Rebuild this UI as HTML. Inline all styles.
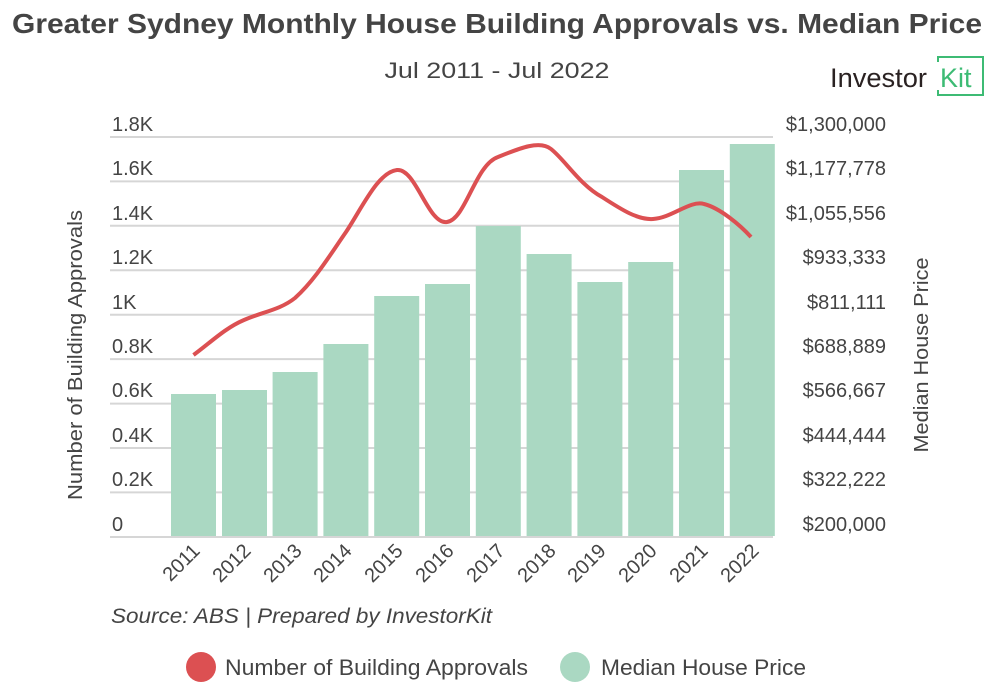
<!DOCTYPE html>
<html><head><meta charset="utf-8"><style>
body{margin:0;background:#fff;font-family:"Liberation Sans",sans-serif}
</style></head><body>
<svg width="994" height="690" xmlns="http://www.w3.org/2000/svg" font-family="Liberation Sans, sans-serif">
<text x="497" y="33" text-anchor="middle" font-size="28" font-weight="bold" fill="#444" textLength="970" lengthAdjust="spacingAndGlyphs">Greater Sydney Monthly House Building Approvals vs. Median Price</text>
<text x="497" y="78" text-anchor="middle" font-size="22" fill="#444" textLength="225" lengthAdjust="spacingAndGlyphs">Jul 2011 - Jul 2022</text>
<text x="830" y="87" font-size="27" fill="#2a2222" textLength="97" lengthAdjust="spacingAndGlyphs">Investor</text>
<path d="M938 62 V57 H983 V95 H938 V90" fill="none" stroke="#3dbb74" stroke-width="2"/>
<text x="940" y="87" font-size="27" fill="#3dbb74">Kit</text>
<g stroke="#d6d6d6" stroke-width="2">
<line x1="110" x2="773" y1="137" y2="137"/><line x1="110" x2="773" y1="181.4" y2="181.4"/><line x1="110" x2="773" y1="225.8" y2="225.8"/><line x1="110" x2="773" y1="270.3" y2="270.3"/><line x1="110" x2="773" y1="314.7" y2="314.7"/><line x1="110" x2="773" y1="359.1" y2="359.1"/><line x1="110" x2="773" y1="403.6" y2="403.6"/><line x1="110" x2="773" y1="448" y2="448"/><line x1="110" x2="773" y1="492.4" y2="492.4"/><line x1="110" x2="773" y1="537" y2="537"/>
</g>
<g font-size="20" fill="#444">
<text x="112" y="131">1.8K</text><text x="112" y="175">1.6K</text><text x="112" y="220">1.4K</text><text x="112" y="264">1.2K</text><text x="112" y="309">1K</text><text x="112" y="353">0.8K</text><text x="112" y="397">0.6K</text><text x="112" y="442">0.4K</text><text x="112" y="486">0.2K</text><text x="112" y="531">0</text>
</g>
<g font-size="20" fill="#444" text-anchor="end">
<text x="886" y="131">$1,300,000</text><text x="886" y="175">$1,177,778</text><text x="886" y="220">$1,055,556</text><text x="886" y="264">$933,333</text><text x="886" y="309">$811,111</text><text x="886" y="353">$688,889</text><text x="886" y="397">$566,667</text><text x="886" y="442">$444,444</text><text x="886" y="486">$322,222</text><text x="886" y="531">$200,000</text>
</g>
<text transform="translate(82,355) rotate(-90)" text-anchor="middle" font-size="20" fill="#444" textLength="290" lengthAdjust="spacingAndGlyphs">Number of Building Approvals</text>
<text transform="translate(928,355) rotate(-90)" text-anchor="middle" font-size="20" fill="#444" textLength="195" lengthAdjust="spacingAndGlyphs">Median House Price</text>
<g fill="#aad8c2">
<rect x="171" y="394" width="45" height="142"/>
<rect x="222" y="390" width="45" height="146"/>
<rect x="272.6" y="372" width="45" height="164"/>
<rect x="323.4" y="344" width="45" height="192"/>
<rect x="374.2" y="296" width="45" height="240"/>
<rect x="425" y="284" width="45" height="252"/>
<rect x="475.8" y="226" width="45" height="310"/>
<rect x="526.6" y="254" width="45" height="282"/>
<rect x="577.4" y="282" width="45" height="254"/>
<rect x="628.2" y="262" width="45" height="274"/>
<rect x="679" y="170" width="45" height="366"/>
<rect x="729.8" y="144" width="45" height="392"/>
</g>
<path d="M193.5 355 C210 343,225 328,244 320 C262 312,280 310,295 298 C315 280,330 255,346 232 C362 208,378 172,397 170 C416 168,428 225,447 222 C466 219,475 165,498 157 C520 148,540 140,551 149 C565 160,580 185,602 197 C622 210,638 220,653 219 C672 218,690 200,704 204 C720 208,740 225,751 237" fill="none" stroke="#dc5052" stroke-width="4"/>
<g font-size="20" fill="#444" text-anchor="end">
<text transform="translate(201,552) rotate(-45)">2011</text>
<text transform="translate(252,552) rotate(-45)">2012</text>
<text transform="translate(303,552) rotate(-45)">2013</text>
<text transform="translate(353,552) rotate(-45)">2014</text>
<text transform="translate(404,552) rotate(-45)">2015</text>
<text transform="translate(455,552) rotate(-45)">2016</text>
<text transform="translate(506,552) rotate(-45)">2017</text>
<text transform="translate(557,552) rotate(-45)">2018</text>
<text transform="translate(607,552) rotate(-45)">2019</text>
<text transform="translate(658,552) rotate(-45)">2020</text>
<text transform="translate(709,552) rotate(-45)">2021</text>
<text transform="translate(760,552) rotate(-45)">2022</text>
</g>
<text x="111" y="623" font-size="21" font-style="italic" fill="#444" textLength="381" lengthAdjust="spacingAndGlyphs">Source: ABS | Prepared by InvestorKit</text>
<circle cx="201" cy="667" r="15" fill="#dc5052"/>
<text x="225" y="675" font-size="22" fill="#444" textLength="303" lengthAdjust="spacingAndGlyphs">Number of Building Approvals</text>
<circle cx="575" cy="667" r="15" fill="#aad8c2"/>
<text x="601" y="675" font-size="22" fill="#444" textLength="205" lengthAdjust="spacingAndGlyphs">Median House Price</text>
</svg>
</body></html>
